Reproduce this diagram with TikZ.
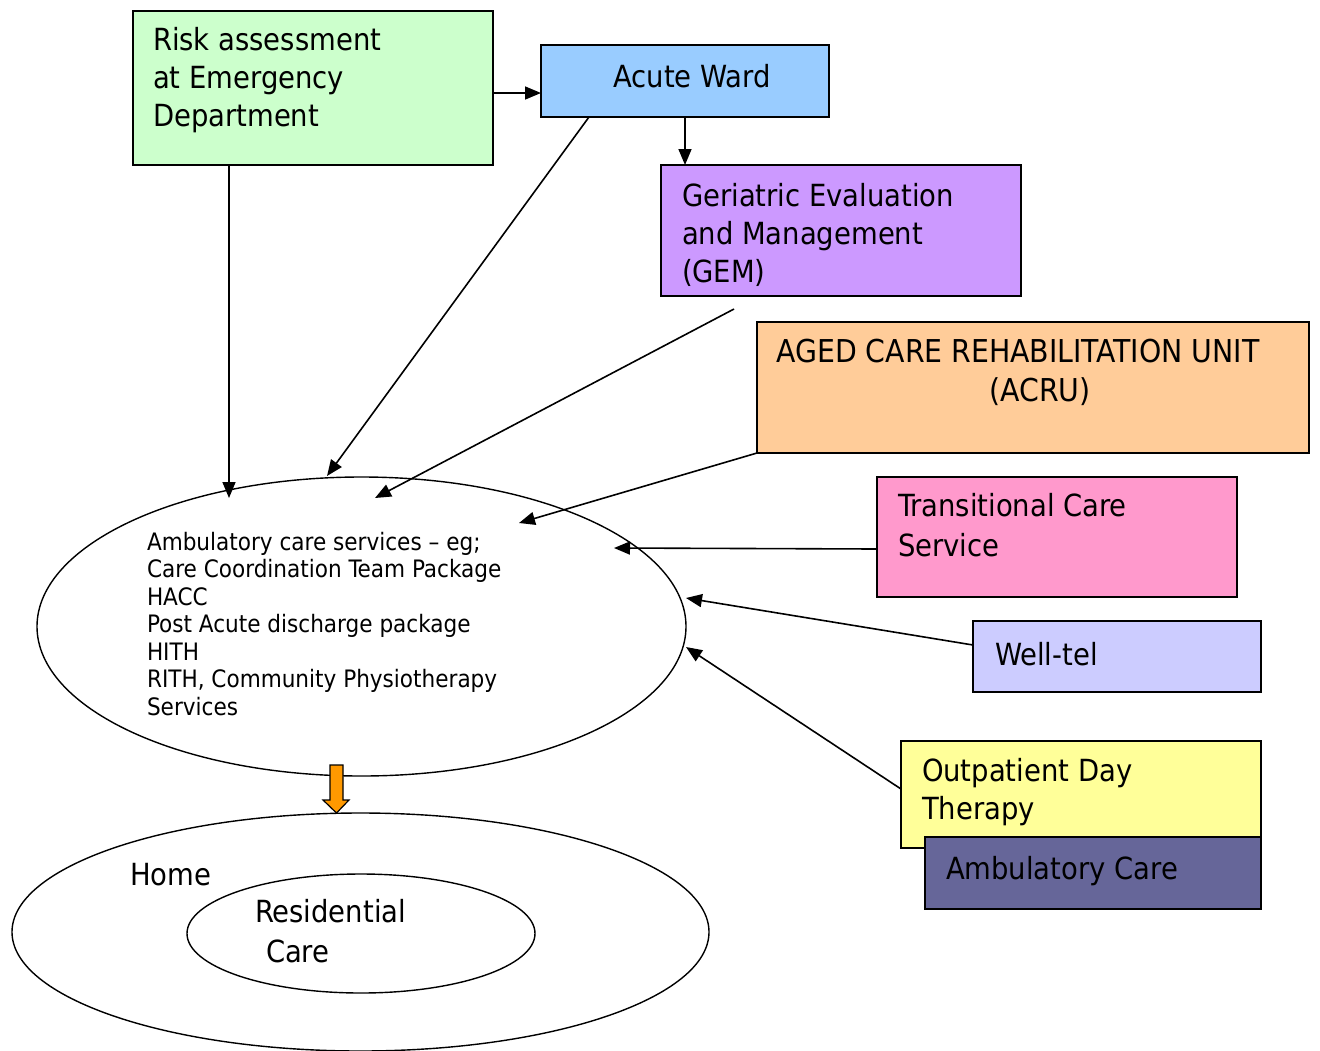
\documentclass[tikz,border=0pt]{standalone}
\usepackage{fontspec}
\setmainfont{DejaVu Sans Condensed}
\usetikzlibrary{shapes.geometric,arrows.meta,calc}
\definecolor{cgreen}{HTML}{CCFFCC}
\definecolor{cblue}{HTML}{99CCFF}
\definecolor{cpurple}{HTML}{CC99FF}
\definecolor{corange}{HTML}{FFCC99}
\definecolor{cpink}{HTML}{FF99CC}
\definecolor{clav}{HTML}{CCCCFF}
\definecolor{cyellow}{HTML}{FFFF99}
\definecolor{cslate}{HTML}{666699}
\definecolor{cblock}{HTML}{FF9900}
\begin{document}
\begin{tikzpicture}[x=1pt,y=-1pt,
  box/.style={draw=black, line width=1.5pt, rectangle, inner sep=0pt, outer sep=0pt, anchor=north west},
  big/.style={inner sep=0pt, outer sep=0pt, font=\fontsize{30.5}{38}\selectfont, align=left, anchor=north west},
  small/.style={inner sep=0pt, outer sep=0pt, font=\fontsize{24}{27.5}\selectfont, align=left, anchor=north west},
  oval/.style={draw=black, ellipse, line width=1.4pt, inner sep=0pt, outer sep=0pt},
  arr/.style={line width=1.6pt, -{Triangle[length=16pt,width=13pt]}}]
\useasboundingbox[fill=white] (0,0) rectangle (1320,1050);

% boxes
\node[box, fill=cgreen, minimum width=360pt, minimum height=154pt] (risk) at (133,11) {};
\node[box, fill=cblue, minimum width=288pt, minimum height=72pt] (acute) at (541,45) {};
\node[box, fill=cpurple, minimum width=360pt, minimum height=131pt] (gem) at (661,165) {};
\node[box, fill=corange, minimum width=552pt, minimum height=131pt] (acru) at (757,322) {};
\node[box, fill=cpink, minimum width=360pt, minimum height=120pt] (trans) at (877,477) {};
\node[box, fill=clav, minimum width=288pt, minimum height=71pt] (well) at (973,621) {};
\node[box, fill=cyellow, minimum width=360pt, minimum height=107pt] (outp) at (901,741) {};
\node[box, fill=cslate, minimum width=336pt, minimum height=72pt] (ambc) at (925,837) {};

% box texts
\node[big] (risktxt) at (153,23.4) {\strut Risk assessment\\at Emergency\\Department};
\node[big, anchor=base] (acutetxt) at (692,87) {Acute Ward};
\node[big] (gemtxt) at (682,179.4) {\strut Geriatric Evaluation\\and Management\\(GEM)};
\node[big, font=\fontsize{31.5}{39}\selectfont, align=center, anchor=north] (acrutxt) at (1018,334.7) {\strut AGED CARE REHABILITATION UNIT\\\hspace*{44pt}(ACRU)};
\node[big, font=\fontsize{30.5}{40}\selectfont] (transtxt) at (898,488) {\strut Transitional Care\\Service};
\node[big, anchor=base west] (welltxt) at (995,665) {Well-tel};
\node[big] (outptxt) at (922,754.4) {\strut Outpatient Day\\Therapy};
\node[big, anchor=base west] (ambctxt) at (946,879) {Ambulatory Care};

% ellipses
\node[oval, minimum width=649pt, minimum height=299pt] (amb) at (361.5,626.5) {};
\node[small] (ambtxt) at (147,530.75) {\strut Ambulatory care services – eg;\\Care Coordination Team Package\\HACC\\Post Acute discharge package\\HITH\\RITH, Community Physiotherapy\\Services};
\node[oval, minimum width=697pt, minimum height=238pt] (home) at (360.5,932) {};
\node[oval, minimum width=348pt, minimum height=119pt] (resi) at (361,933.5) {};
\node[big, anchor=base west] (hometxt) at (130,885) {Home};
\node[big, font=\fontsize{30.5}{40}\selectfont] (resitxt) at (255,894) {\strut Residential\\\hspace*{11pt}Care};

% connectors
\coordinate (t1) at (229,498);
\coordinate (t2) at (327,476);
\coordinate (s3) at (734,309);
\coordinate (t3) at (375,498);
\coordinate (t4) at (519,523);
\coordinate (t5) at (614,548);
\coordinate (t6) at (686,598);
\coordinate (t7) at (686,647);
\draw[arr] (risk.east |- 0,93) -- (acute.west |- 0,93);
\draw[arr] (acute.south -| 685,0) -- (gem.north -| 685,0);
\draw[arr] (risk.south -| t1) -- (t1);
\draw[arr] (acute.south -| 589,0) -- (t2);
\draw[arr] (s3) -- (t3);
\draw[arr] (acru.south west) -- (t4);
\draw[arr] (trans.west |- 0,549) -- (t5);
\draw[arr] (well.west |- 0,645) -- (t6);
\draw[arr] (outp.west |- 0,789) -- (t7);

% block arrow from ambulatory ellipse to home ellipse
\coordinate (ba) at (336.5,765);
\draw[fill=cblock, line width=1.2pt, line join=miter]
  ($(ba)+(-6.5,0)$) -- ($(ba)+(6.5,0)$) -- ($(ba)+(6.5,35)$) -- ($(ba)+(12.5,35)$)
  -- ($(ba)+(0,48)$) -- ($(ba)+(-13.5,35)$) -- ($(ba)+(-6.5,35)$) -- cycle;
\end{tikzpicture}
\end{document}
